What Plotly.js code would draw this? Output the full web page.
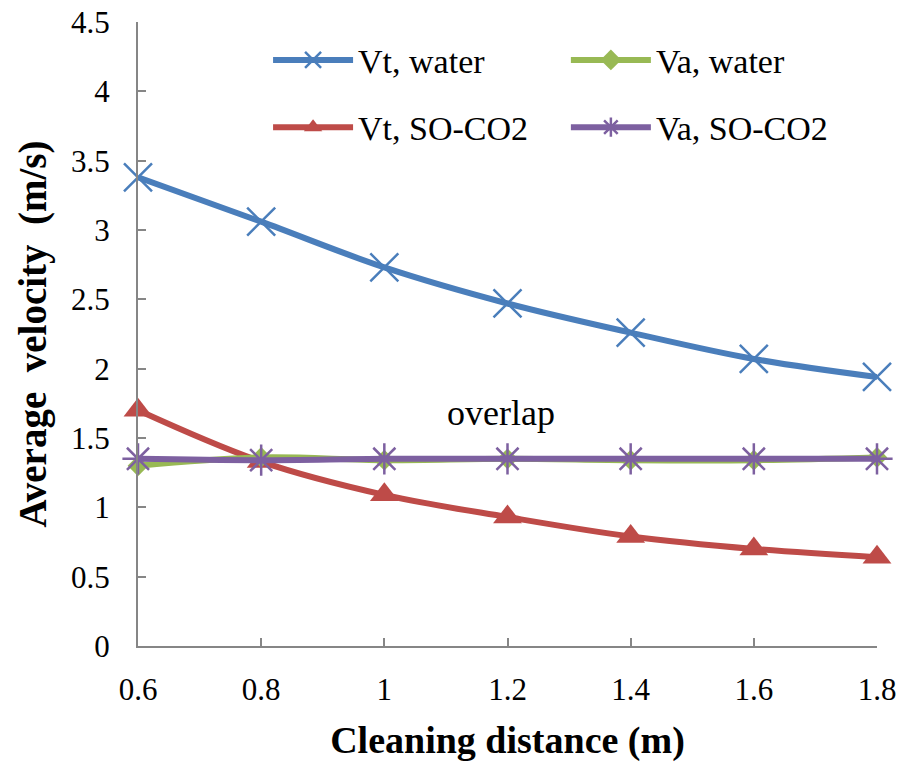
<!DOCTYPE html>
<html>
<head>
<meta charset="utf-8">
<script src="https://cdn.plot.ly/plotly-3.0.1.min.js"></script>
<style>html,body{margin:0;padding:0;background:#fff;}#chart{width:912px;height:763px;}</style>
</head>
<body>
<div id="chart"></div>
<script>
const distance = [0.6, 0.8, 1.0, 1.2, 1.4, 1.6, 1.8];
const vtWater = [3.38, 3.06, 2.73, 2.47, 2.26, 2.07, 1.94];
const vtSOCO2 = [1.70, 1.33, 1.09, 0.93, 0.79, 0.70, 0.64];
const vaWater = [1.30, 1.36, 1.34, 1.35, 1.34, 1.34, 1.36];
const vaSOCO2 = [1.35, 1.34, 1.35, 1.35, 1.35, 1.35, 1.35];
const seriesNames = ["Vt, water", "Vt, SO-CO2", "Va, water", "Va, SO-CO2"];

const serif = "Liberation Serif";
const axisColor = "#868686";

const traces = [
  {x: distance, y: vtWater, name: seriesNames[0], mode: "lines+markers", cliponaxis: false,
   line: {color: "#4A7EBB", width: 6, shape: "spline"},
   marker: {symbol: "x-thin-open", size: 28, color: "#4A7EBB", line: {color: "#4A7EBB", width: 2.5}},
   legend: "legend", legendgroup: "a"},
  {x: distance, y: vtSOCO2, name: seriesNames[1], mode: "lines+markers", cliponaxis: false,
   line: {color: "#BE4B48", width: 6, shape: "spline"},
   marker: {symbol: "triangle-up", size: 25, color: "#BE4B48"},
   legend: "legend", legendgroup: "b"},
  {x: distance, y: vaWater, name: seriesNames[2], mode: "lines+markers", cliponaxis: false,
   line: {color: "#98B954", width: 6, shape: "spline"},
   marker: {symbol: "diamond", size: 16, color: "#98B954"},
   legend: "legend2", legendgroup: "c"},
  {x: distance, y: vaSOCO2, name: seriesNames[3], mode: "lines+markers", cliponaxis: false,
   line: {color: "#7D60A0", width: 6, shape: "spline"},
   marker: {symbol: "asterisk-open", size: 26, color: "#7D60A0", line: {color: "#7D60A0", width: 2.5}},
   legend: "legend2", legendgroup: "d"}
];

function legendBox(xPos) {
  return {
    font: {family: serif, size: 34, color: "#000"},
    bgcolor: "rgba(0,0,0,0)", borderwidth: 0,
    orientation: "v", traceorder: "grouped", tracegroupgap: 20,
    itemwidth: 80,
    xanchor: "left", yanchor: "top", x: xPos, y: 0.985
  };
}

const layout = {
  width: 912, height: 763,
  margin: {l: 138, r: 35, t: 22, b: 117},
  paper_bgcolor: "#fff", plot_bgcolor: "#fff",
  font: {family: serif, color: "#000"},
  showlegend: true,
  legend: legendBox(0.176),
  legend2: legendBox(0.579),
  xaxis: {
    range: [0.6, 1.8], dtick: 0.2, tick0: 0.6,
    showline: true, linecolor: axisColor, linewidth: 2,
    ticks: "inside", ticklen: 8, tickcolor: axisColor, tickwidth: 2,
    showgrid: false, zeroline: false,
    tickfont: {family: serif, size: 31, color: "#000"},
    ticklabelstandoff: 15,
    title: {text: "Cleaning distance (m)", font: {family: serif, size: 38, color: "#000", weight: "bold"}, standoff: 20}
  },
  yaxis: {
    range: [0, 4.5], dtick: 0.5,
    showline: true, linecolor: axisColor, linewidth: 2,
    ticks: "inside", ticklen: 8, tickcolor: axisColor, tickwidth: 2,
    showgrid: false, zeroline: false,
    tickfont: {family: serif, size: 31, color: "#000"},
    ticklabelstandoff: 20,
    title: {text: "Average\u00a0 velocity\u00a0 (m/s)", font: {family: serif, size: 39, color: "#000", weight: "bold"}, standoff: 12}
  },
  annotations: [{
    x: 1.19, y: 1.68, xref: "x", yref: "y", text: "overlap", showarrow: false,
    font: {family: serif, size: 36, color: "#000"}
  }]
};

Plotly.newPlot("chart", traces, layout, {displayModeBar: false, staticPlot: true});
</script>
</body>
</html>
